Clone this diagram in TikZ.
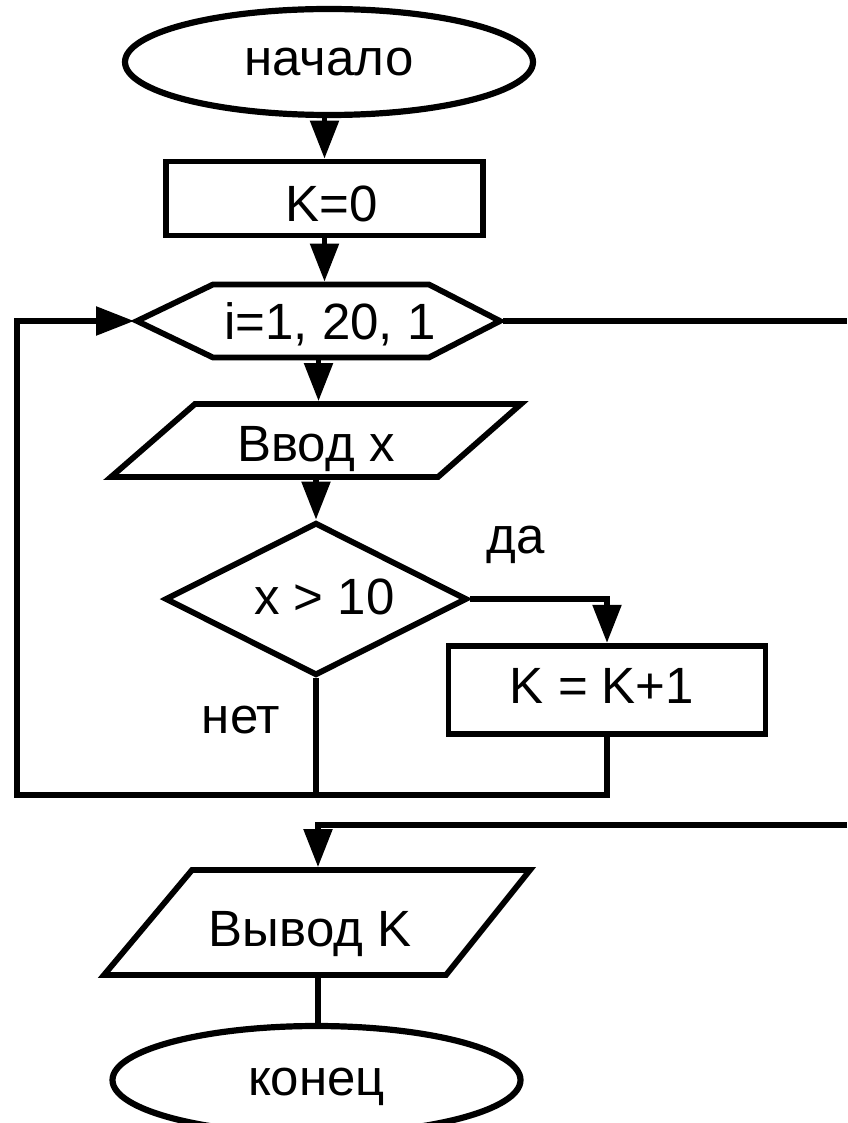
\documentclass[tikz,border=0pt]{standalone}
\usepackage{fontspec}
\setmainfont{Liberation Sans}
\usetikzlibrary{arrows.meta,shapes.geometric}
\begin{document}
\begin{tikzpicture}[x=0.5pt,y=-0.5pt,
  every node/.style={font=\fontsize{25.5}{30}\selectfont, inner sep=0pt},
  shp/.style={line width=2.9pt, line join=miter},
  conn/.style={line width=2.7pt},
  arr/.style={-{Triangle[length=19pt,width=14pt]}},
  oval/.style={ellipse, draw, line width=3.1pt, minimum width=204pt, minimum height=53pt},
  box/.style={rectangle, draw, line width=2.9pt, minimum width=158.5pt},
  ghost/.style={rectangle, outer sep=1.45pt}]
\fill[white] (0,0) rectangle (847,1123);
\useasboundingbox (0,0) rectangle (847,1123);

% start
\node[oval, text height=13.2pt, text depth=0pt] (start) at (329,62) {начало};
% K=0
\node[box, minimum height=37pt, text height=22.8pt, text depth=0pt] (k0) at (324.5,198.5) {\hspace*{7pt}K=0};
% loop hexagon
\draw[shp] (137,321) -- (213,284.5) -- (429,284.5) -- (500,321) -- (429,357.5) -- (213,357.5) -- cycle;
\node[ghost, minimum width=181.5pt, minimum height=36.5pt, text height=18.3pt, text depth=0pt] (hex) at (318.5,321) {\hspace*{11.5pt}i=1, 20, 1};
% input
\draw[shp] (195,404) -- (521,404) -- (438,477) -- (111,477) -- cycle;
\node[ghost, minimum width=120pt, minimum height=36.5pt, text height=21.3pt, text depth=0pt] (inp) at (316,440.5) {Ввод x};
% decision
\node[diamond, draw, shp, shape aspect=2, minimum width=151pt, minimum height=76.5pt, text height=15.3pt, text depth=0pt] (dec) at (316,599) {\hspace*{8.5pt}x > 10};
% increment
\node[box, minimum height=44.25pt, text height=13.3pt, text depth=0pt] (inc) at (607,690) {\hspace*{-5pt}K = K+1};
% output
\draw[shp] (192,870) -- (530,870) -- (446,975) -- (104,975) -- cycle;
\node[ghost, minimum width=120pt, minimum height=52.5pt, text height=24.3pt, text depth=0pt] (outp) at (318,922.5) {\hspace*{-8pt}Вывод K};
% end
\node[oval, minimum height=54pt, text height=15.2pt, text depth=0pt] (stop) at (316.5,1080) {конец};

% labels
\node[text height=13.2pt, text depth=0pt] (yes) at (516,540) {да};
\node[text height=13.2pt, text depth=0pt] (no) at (241,720.5) {нет};

% helper coordinates
\coordinate (bl) at (17,795);
\coordinate (ex1) at (847,321);
\coordinate (ex2) at (847,825);

% connectors
\draw[conn,arr] (start.south -| k0.north) -- (k0.north);
\draw[conn,arr] (k0.south) -- (k0.south |- hex.north);
\draw[conn,arr] (hex.south) -- (hex.south |- inp.north);
\draw[conn,arr] (inp.south) -- (inp.south |- dec.north);
\draw[conn,arr] (dec.east) -| (inc.north);
\draw[conn] (dec.south) -- (dec.south |- bl);
\draw[conn,arr] (inc.south) |- (bl) |- (hex.west);
\draw[conn] (hex.east) -- (ex1);
\draw[conn,arr] (ex2) -| (outp.north);
\draw[conn] (outp.south) -- (outp.south |- stop.north);
\end{tikzpicture}
\end{document}
